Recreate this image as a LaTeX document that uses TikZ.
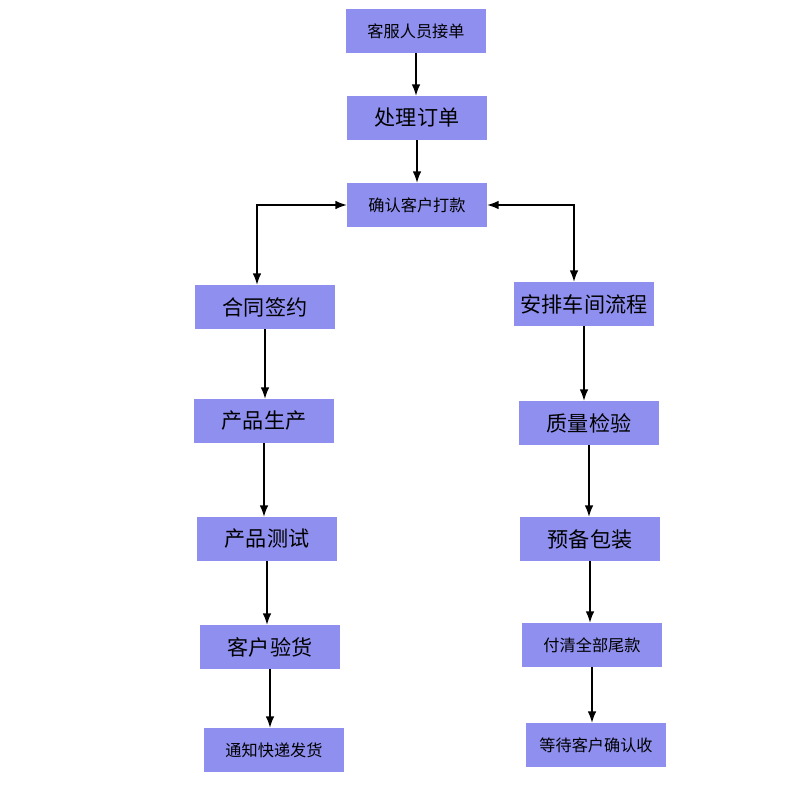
\documentclass[tikz,border=0pt]{standalone}
\usepackage{fontspec}
\setmainfont{Noto Sans CJK SC}
\usetikzlibrary{arrows.meta}
\tikzset{
  stepbox/.style={fill=boxblue, minimum width=3.5cm, minimum height=1.1cm, inner sep=0pt, font=\fontsize{15}{18}\selectfont},
  smallbox/.style={stepbox, font=\fontsize{11.5}{14}\selectfont},
  arr/.style={-{Latex[length=8pt,width=6pt]}, thick},
  arrboth/.style={{Latex[length=8pt,width=6pt]}-{Latex[length=8pt,width=6pt]}, thick}
}
\definecolor{boxblue}{HTML}{8F8FEF}
\begin{document}
\begin{tikzpicture}[x=0.025cm, y=-0.025cm]
    \useasboundingbox (0,0) rectangle (800,800);

    % Top
    \node[smallbox] (recv) at (416,31) {客服人员接单};
    \node[stepbox] (order) at (417,118) {处理订单};
    \node[smallbox] (pay) at (417,205) {确认客户打款};

    % Left branch
    \node[stepbox] (sign) at (265,307) {合同签约};
    \node[stepbox] (make) at (264,421) {产品生产};
    \node[stepbox] (test) at (267,539) {产品测试};
    \node[stepbox] (check) at (270,647) {客户验货};
    \node[smallbox] (ship) at (274,750) {通知快递发货};

    % Right branch
    \node[stepbox] (plan) at (584,304) {安排车间流程};
    \node[stepbox] (qual) at (589,423) {质量检验};
    \node[stepbox] (pack) at (590,539) {预备包装};
    \node[smallbox] (rest) at (592,645) {付清全部尾款};
    \node[smallbox] (wait) at (596,745) {等待客户确认收};

    % Arrows
    \draw[arr] (recv.south) -- (recv.south |- order.north);
    \draw[arr] (order.south) -- (order.south |- pay.north);
    \draw[arrboth] (pay.west) -| ([xshift=-0.2cm]sign.north);
    \draw[arrboth] (pay.east) -| ([xshift=-0.25cm]plan.north);
    \draw[arr] (sign.south) -- (sign.south |- make.north);
    \draw[arr] (make.south) -- (make.south |- test.north);
    \draw[arr] (test.south) -- (test.south |- check.north);
    \draw[arr] (check.south) -- (check.south |- ship.north);
    \draw[arr] (plan.south) -- (plan.south |- qual.north);
    \draw[arr] (qual.south) -- (qual.south |- pack.north);
    \draw[arr] (pack.south) -- (pack.south |- rest.north);
    \draw[arr] (rest.south) -- (rest.south |- wait.north);
\end{tikzpicture}
\end{document}
